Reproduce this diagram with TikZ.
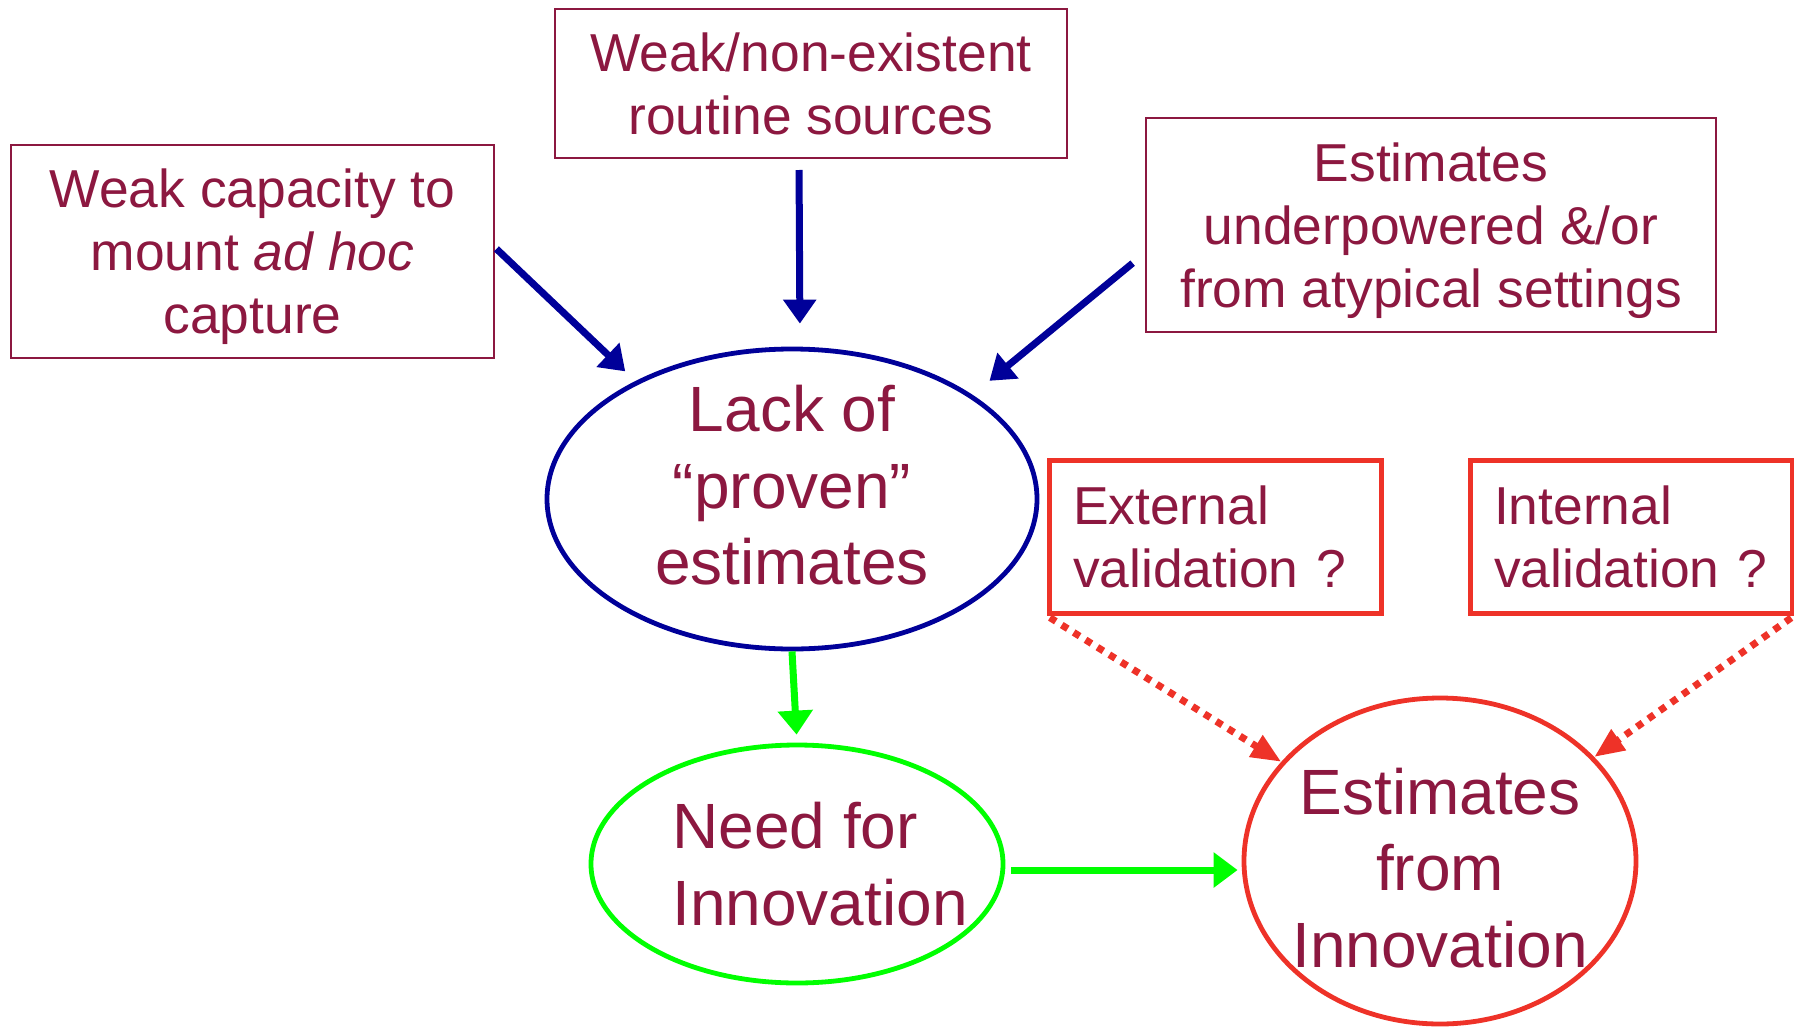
\documentclass[tikz,border=0pt]{standalone}
\usepackage{fontspec}
\setmainfont{Liberation Sans}
\usetikzlibrary{arrows.meta,shapes.geometric}
\definecolor{wine}{RGB}{140,24,64}
\definecolor{navy}{RGB}{0,0,153}
\definecolor{lime}{RGB}{0,255,0}
\definecolor{valred}{RGB}{238,50,40}

\begin{document}
\begin{tikzpicture}[x=0.5pt,y=-0.5pt,
  every node/.style={text=wine},
  small/.style={font=\fontsize{26.7}{31.5}\selectfont},
  big/.style={font=\fontsize{32}{38.3}\selectfont},
  cause/.style={draw=wine, line width=1pt, small, align=center, inner sep=0pt,
    text depth=0pt},
  check/.style={draw=valred, line width=2.5pt, small, align=left, inner xsep=12pt,
    minimum height=76.5pt},
  blob/.style={ellipse, line width=2.4pt, big, inner sep=0pt},
  push/.style={draw=navy, line width=3.5pt, -{Triangle[length=12pt,width=16pt]}},
  lead/.style={draw=lime, line width=3.5pt, -{Triangle[length=12pt,width=17pt]}},
  test/.style={draw=valred, line width=3.5pt, dash pattern=on 3.5pt off 3.5pt,
    -{Triangle[length=15pt,width=12pt]}}]
  \useasboundingbox (0,0) rectangle (1794,1028);
  % causes along the top
  \node[cause, minimum width=241.5pt, minimum height=106.5pt] (adhoc) at (252.5,251.5)
    {Weak capacity to\\mount \textit{ad hoc}\\capture};
  \node[cause, minimum width=256pt, minimum height=74.5pt] (routine) at (811,83.5)
    {Weak/non-existent\\routine sources};
  \node[cause, minimum width=285pt, minimum height=107pt] (atypical) at (1431,225)
    {Estimates\\underpowered \&/or\\from atypical settings};
  % central problem, text sits a little high
  \node[blob, draw=navy, minimum width=245pt, minimum height=150pt, inner ysep=-5pt,
    align=center] (lack) at (792,499)
    {Lack of\\“proven”\\estimates\rule[-14pt]{0pt}{14pt}};
  \node[blob, draw=lime, minimum width=206pt, minimum height=119pt, inner xsep=-12.5pt,
    align=left] (need) at (797,864)
    {\hspace*{23pt}Need for\\\hspace*{23pt}Innovation};
  \node[blob, draw=valred, minimum width=196pt, minimum height=163pt, inner xsep=-5pt,
    align=center] (innov) at (1440,861)
    {\rule{0pt}{30pt}Estimates\\from\\Innovation};
  % validation questions
  \node[check, text width=142pt] (extval) at (1215,536.5) {External\\validation ?};
  \node[check, text width=137pt] (intval) at (1631,536.5) {Internal\\validation ?};

  \draw[push, shorten <=1pt, shorten >=7pt] ([yshift=2pt]adhoc.east) -- (lack.143);
  \draw[push, shorten <=5.5pt, shorten >=11.5pt] ([xshift=-6pt]routine.south) -- ([xshift=4pt]lack.north);
  \draw[push, shorten <=8pt, shorten >=11pt] ([yshift=-14pt]atypical.west) -- (lack.30);
  \draw[lead, shorten >=4pt] (lack.south) -- (need.north);
  \draw[lead, shorten <=3pt, shorten >=2pt] ([yshift=-3pt]need.east) -- ([yshift=-3pt]need.east -| innov.west);
  \draw[test, shorten <=2pt] (extval.south west) -- (innov.148);
  \draw[test, shorten <=2pt] (intval.south east) -- (innov.34);
\end{tikzpicture}
\end{document}
